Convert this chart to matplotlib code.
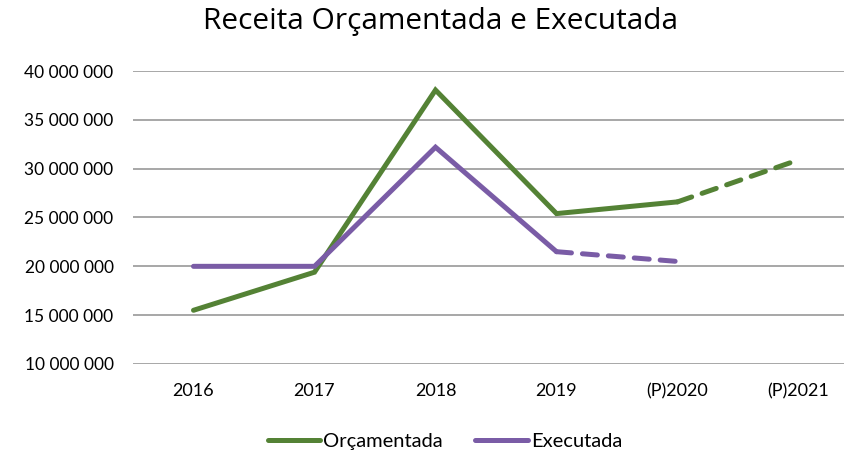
import matplotlib
matplotlib.use("Agg")
import matplotlib.pyplot as plt
from matplotlib.lines import Line2D

plt.rcParams['font.family'] = ['Lato', 'DejaVu Sans']

categories = ["2016", "2017", "2018", "2019", "(P)2020", "(P)2021"]
orcamentada = [15_500_000, 19_400_000, 38_050_000, 25_400_000, 26_600_000, 30_900_000]
executada = [20_000_000, 20_000_000, 32_200_000, 21_500_000, 20_500_000]
y_ticks = [10_000_000, 15_000_000, 20_000_000, 25_000_000, 30_000_000, 35_000_000, 40_000_000]

green = "#548235"
purple = "#7A5CA6"

W, H = 845, 459
fig = plt.figure(figsize=(W / 100, H / 100), dpi=100)
ax = fig.add_axes([133 / W, (H - 364) / H, 726 / W, (364 - 71) / H])

x = list(range(len(categories)))
lw = 3.6
ax.plot(x[:5], orcamentada[:5], color=green, lw=lw, solid_capstyle='round', solid_joinstyle='miter', zorder=3)
ax.plot(x[4:6], orcamentada[4:6], color=green, lw=lw, linestyle=(0, (3, 2.2)), dash_capstyle='round', zorder=3)
ax.plot(x[:4], executada[:4], color=purple, lw=lw, solid_capstyle='round', solid_joinstyle='miter', zorder=3)
ax.plot(x[3:5], executada[3:5], color=purple, lw=lw, linestyle=(0, (3, 2.2)), dash_capstyle='round', zorder=3)

ax.set_xlim(-0.5, len(categories) - 0.5)
ax.set_ylim(10_000_000, 40_000_000)
ax.set_yticks(y_ticks)
ax.set_yticklabels([f"{v:,}".replace(",", " ") for v in y_ticks], fontsize=12.5)
ax.set_xticks(x)
ax.set_xticklabels(categories, fontsize=13)
ax.tick_params(axis='y', length=0, pad=14)
ax.tick_params(axis='x', length=0, pad=14)
ax.grid(axis='y', color="#A0A0A0", lw=1.3)
ax.set_axisbelow(True)
for s in ax.spines.values():
    s.set_visible(False)

fig.text(441 / W, 1 - 22 / H, "Receita Orçamentada e Executada", ha='center', va='center',
         fontsize=21.5, family=['Open Sans', 'DejaVu Sans'])

handles = [Line2D([0], [0], color=green, lw=lw, solid_capstyle='round'),
           Line2D([0], [0], color=purple, lw=lw, solid_capstyle='round')]
fig.legend(handles, ["Orçamentada", "Executada"], loc='center', bbox_to_anchor=(445 / W, 1 - 441 / H),
           ncol=2, frameon=False, fontsize=14.5, handlelength=2.6, handletextpad=0.15, columnspacing=1.6)

fig.savefig("out.png", dpi=100)
